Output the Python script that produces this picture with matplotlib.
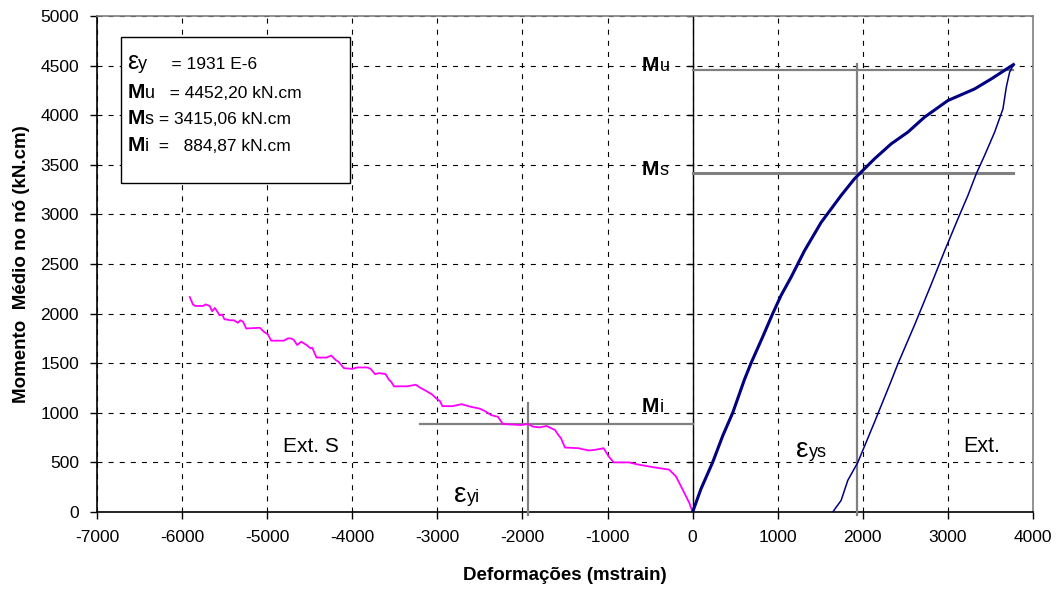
import matplotlib
matplotlib.use("Agg")
import matplotlib.pyplot as plt

plt.rcParams['font.family'] = ['Liberation Sans', 'DejaVu Sans']
plt.rcParams['axes.unicode_minus'] = False

# Compressed side (Ext. S): strain (mstrain) and joint moment (kN.cm)
neg_strain = [-5910, -5871, -5843, -5753, -5725, -5675, -5647, -5616, -5588, -5561,
              -5529, -5502, -5431, -5392, -5345, -5314, -5282, -5247, -5086, -5039,
              -4992, -4953, -4804, -4757, -4718, -4686, -4647, -4600, -4537, -4490,
              -4471, -4420, -4302, -4247, -4196, -4165, -4098, -4000, -3941, -3824,
              -3784, -3733, -3686, -3608, -3569, -3541, -3510, -3353, -3255, -3196,
              -3137, -3059, -3020, -2969, -2941, -2822, -2716, -2605, -2507, -2447,
              -2368, -2289, -2230, -2013, -1934, -1875, -1796, -1717, -1618, -1579,
              -1547, -1500, -1342, -1223, -1145, -1046, -987, -928, -750, -632,
              -474, -276, -197, -118, -40, 0]
neg_moment = [2167, 2090, 2077, 2077, 2093, 2077, 2023, 2057, 2023, 1983,
              1990, 1943, 1933, 1933, 1907, 1933, 1917, 1850, 1857, 1817,
              1790, 1727, 1727, 1750, 1750, 1733, 1683, 1717, 1683, 1650,
              1657, 1557, 1557, 1577, 1533, 1517, 1450, 1443, 1457, 1457,
              1443, 1390, 1400, 1390, 1333, 1310, 1267, 1267, 1283, 1250,
              1223, 1183, 1150, 1117, 1067, 1067, 1087, 1060, 1043, 1020,
              977, 960, 887, 877, 887, 860, 853, 867, 827, 777,
              743, 650, 643, 620, 627, 643, 560, 500, 500, 477,
              453, 427, 360, 227, 93, 0]

# Tension side (Ext.): loading branch
load_strain = [0, 98, 235, 353, 471, 608, 686, 824, 941, 1039, 1157, 1314,
               1510, 1745, 1902, 2000, 2137, 2333, 2529, 2725, 3000, 3314,
               3510, 3770]
load_moment = [0, 233, 500, 767, 1000, 1333, 1500, 1767, 2000, 2183, 2367, 2633,
               2919, 3191, 3359, 3443, 3560, 3711, 3829, 3980, 4148, 4265,
               4366, 4510]

# Tension side (Ext.): unloading branch
unload_strain = [3770, 3725, 3686, 3647, 3549, 3431, 3333, 3235, 3118, 2961,
                 2804, 2608, 2412, 2333, 2137, 1941, 1824, 1745, 1647]
unload_moment = [4510, 4433, 4282, 4064, 3829, 3594, 3409, 3191, 2956, 2632,
                 2295, 1885, 1493, 1320, 905, 500, 320, 117, 0]

# Characteristic values
eps_y = 1931
M_u = 4452.20
M_s = 3415.06
M_i = 884.87
ref_end = 3770

x_ticks = list(range(-7000, 4001, 1000))
y_ticks = list(range(0, 5001, 500))

fig = plt.figure(figsize=(10.59, 5.89), dpi=100)
ax = fig.add_axes([97 / 1059, 1 - 512 / 589, 936 / 1059, 496 / 589])
ax.set_xlim(-7000, 4000)
ax.set_ylim(0, 5000)
ax.set_xticks(x_ticks)
ax.set_yticks(y_ticks)
ax.tick_params(axis='both', direction='out', length=5, width=1, labelsize=12.5,
               colors='black')
ax.tick_params(axis='x', pad=8)
ax.tick_params(axis='y', pad=8)
ax.grid(True, color='black', linewidth=0.8, linestyle=(0, (4.5, 5.5)))
ax.set_axisbelow(True)

for side in ['top', 'right']:
    ax.spines[side].set_color('#808080')
    ax.spines[side].set_linewidth(1.2)
for side in ['left', 'bottom']:
    ax.spines[side].set_color('black')
    ax.spines[side].set_linewidth(1.2)

# secondary vertical axis through the origin
ax.axvline(0, color='black', linewidth=1.0, zorder=2)
for yt in y_ticks[1:]:
    ax.plot([-50, 0], [yt, yt], color='black', linewidth=1.0, zorder=2)

gray = '#808080'
# reference lines
ax.plot([0, ref_end], [M_u, M_u], color=gray, linewidth=1.6, zorder=3)
ax.plot([0, ref_end], [M_s, M_s], color=gray, linewidth=2.2, zorder=3)
ax.plot([eps_y, eps_y], [-30, 4520], color=gray, linewidth=1.6, zorder=3, clip_on=False)
ax.plot([-3200, 0], [M_i, M_i], color=gray, linewidth=1.6, zorder=3)
ax.plot([-eps_y, -eps_y], [-30, 1100], color=gray, linewidth=1.6, zorder=3, clip_on=False)

# curves
ax.plot(neg_strain, neg_moment, color='#FF00FF', linewidth=1.3, zorder=4)
ax.plot(load_strain, load_moment, color='#000080', linewidth=2.2, zorder=4)
ax.plot(unload_strain, unload_moment, color='#000080', linewidth=1.1, zorder=4)

ax.set_xlabel('Deformações (mstrain)', fontsize=13.5, fontweight='bold', labelpad=16)
ax.set_ylabel('Momento  Médio no nó (kN.cm)', fontsize=13.5, fontweight='bold', labelpad=7)


def chain(pieces, x, y):
    """Draw text pieces one after another on a common baseline."""
    prev = None
    for txt, size, weight in pieces:
        if prev is None:
            prev = ax.text(x, y, txt, fontsize=size, fontweight=weight,
                           ha='left', va='baseline', zorder=6)
        else:
            prev = ax.annotate(txt, xy=(1, y), xycoords=(prev, 'data'),
                               fontsize=size, fontweight=weight,
                               ha='left', va='baseline', zorder=6)
    return prev


# summary box
box = plt.Rectangle((-6718, 3317), 2691, 1471, facecolor='white',
                    edgecolor='black', linewidth=1.0, zorder=5)
ax.add_patch(box)
bx = -6645
chain([('ε', 18, 'normal'), ('y', 13, 'normal'), ('     = 1931 E-6', 12.5, 'normal')], bx, 4466)
chain([('M', 15, 'bold'), ('u', 13, 'normal'), ('   = 4452,20 kN.cm', 12.5, 'normal')], bx, 4173)
chain([('M', 15, 'bold'), ('s', 13, 'normal'), (' = 3415,06 kN.cm', 12.5, 'normal')], bx, 3911)
chain([('M', 15, 'bold'), ('i', 13, 'normal'), ('  =   884,87 kN.cm', 12.5, 'normal')], bx, 3639)

# labels of the reference values
chain([('M', 15, 'bold'), ('u', 13, 'normal')], -595, 4450)
chain([('M', 15, 'bold'), ('s', 13, 'normal')], -595, 3400)
chain([('M', 15, 'bold'), ('i', 13, 'normal')], -595, 1005)

ax.text(-4485, 665, 'Ext. S', fontsize=15, ha='center', va='center', zorder=6)
ax.text(3400, 665, 'Ext.', fontsize=15.5, ha='center', va='center', zorder=6)
chain([('ε', 20, 'normal'), ('yi', 13, 'normal')], -2800, 100)
chain([('ε', 20, 'normal'), ('ys', 13, 'normal')], 1220, 550)

fig.savefig('out.png', dpi=100)
